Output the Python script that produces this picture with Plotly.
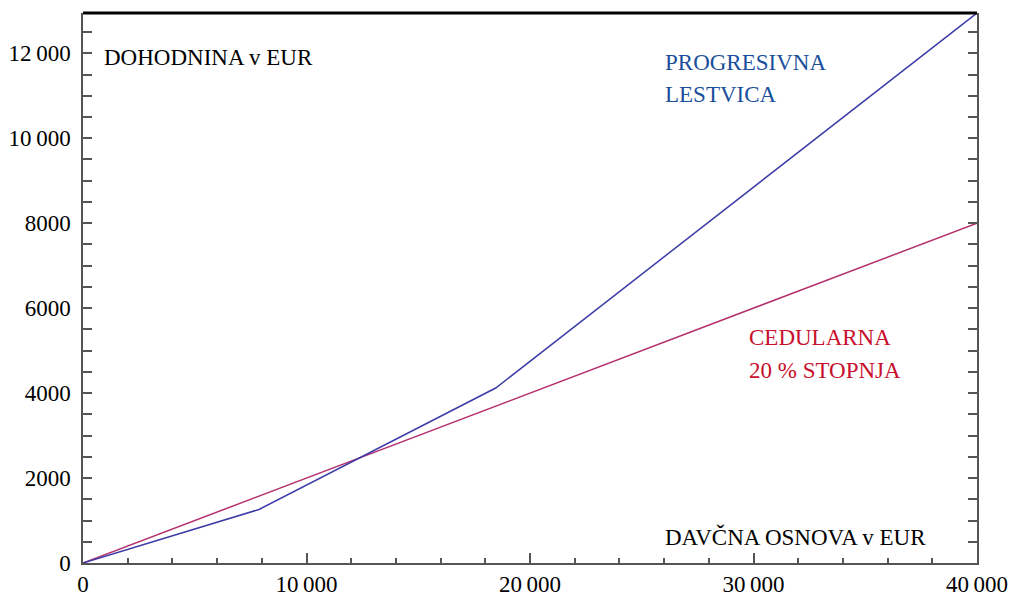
import plotly.graph_objects as go

# Data
osnova_prog = [0, 7875, 18465, 40000]
dohodnina_prog = [0, 1260, 4119, 12948]
osnova_ced = [0, 40000]
dohodnina_ced = [0, 8000]

x_tickvals = [0, 10000, 20000, 30000, 40000]
x_ticktext = ["0", "10\u2009000", "20\u2009000", "30\u2009000", "40\u2009000"]
y_tickvals = [0, 2000, 4000, 6000, 8000, 10000, 12000]
y_ticktext = ["0", "2000", "4000", "6000", "8000", "10\u2009000", "12\u2009000"]

FONT = "Liberation Serif"
AX = "#555555"
FS = 23

fig = go.Figure()
fig.add_trace(go.Scatter(x=osnova_ced, y=dohodnina_ced, mode="lines",
                         line=dict(color="#b3306f", width=1.5), hoverinfo="skip"))
fig.add_trace(go.Scatter(x=osnova_prog, y=dohodnina_prog, mode="lines",
                         line=dict(color="#3c3ca8", width=1.5), hoverinfo="skip"))

fig.update_layout(
    width=1013, height=596,
    margin=dict(l=83, r=36, t=13, b=33, autoexpand=False),
    paper_bgcolor="white", plot_bgcolor="white",
    showlegend=False,
    font=dict(family=FONT, size=FS, color="black"),
    xaxis=dict(range=[0, 40000], tickvals=x_tickvals, ticktext=x_ticktext,
               showgrid=False, zeroline=False, showline=True, linecolor=AX, linewidth=1.5,
               ticks="inside", ticklen=10, tickcolor=AX, tickwidth=1.5,
               minor=dict(dtick=2000, ticks="inside", ticklen=5, tickcolor=AX, tickwidth=1.5),
               tickfont=dict(family=FONT, size=FS, color="black"), automargin=False),
    yaxis=dict(range=[0, 12948], tickvals=y_tickvals, ticktext=y_ticktext,
               showgrid=False, zeroline=False, showline=True, linecolor=AX, linewidth=1.5,
               mirror="allticks",
               ticks="inside", ticklen=9, tickcolor=AX, tickwidth=1.5,
               minor=dict(dtick=500, ticks="inside", ticklen=9, tickcolor=AX, tickwidth=1.5),
               ticklabelstandoff=6,
               tickfont=dict(family=FONT, size=FS, color="black"), automargin=False),
)

# thick top frame line
fig.add_shape(type="line", xref="paper", yref="paper", x0=0, x1=1, y0=1, y1=1,
              line=dict(color="black", width=3))

def ann(text, x, y, color):
    fig.add_annotation(text=text, x=x, y=y, xref="x", yref="y", xanchor="left",
                       yanchor="middle", showarrow=False,
                       font=dict(family=FONT, size=FS, color=color))

ann("DOHODNINA v EUR", 850, 11906, "black")
ann("PROGRESIVNA", 25950, 11790, "#1a4f9c")
ann("LESTVICA", 25950, 11020, "#1a4f9c")
ann("CEDULARNA", 29700, 5300, "#c8102e")
ann("20 % STOPNJA", 29700, 4530, "#c8102e")
ann("DAVČNA OSNOVA v EUR", 25950, 610, "black")

fig.write_html("out.html", config={"displayModeBar": False},
               post_script="document.body.style.margin='0px';document.body.style.overflow='hidden';")
